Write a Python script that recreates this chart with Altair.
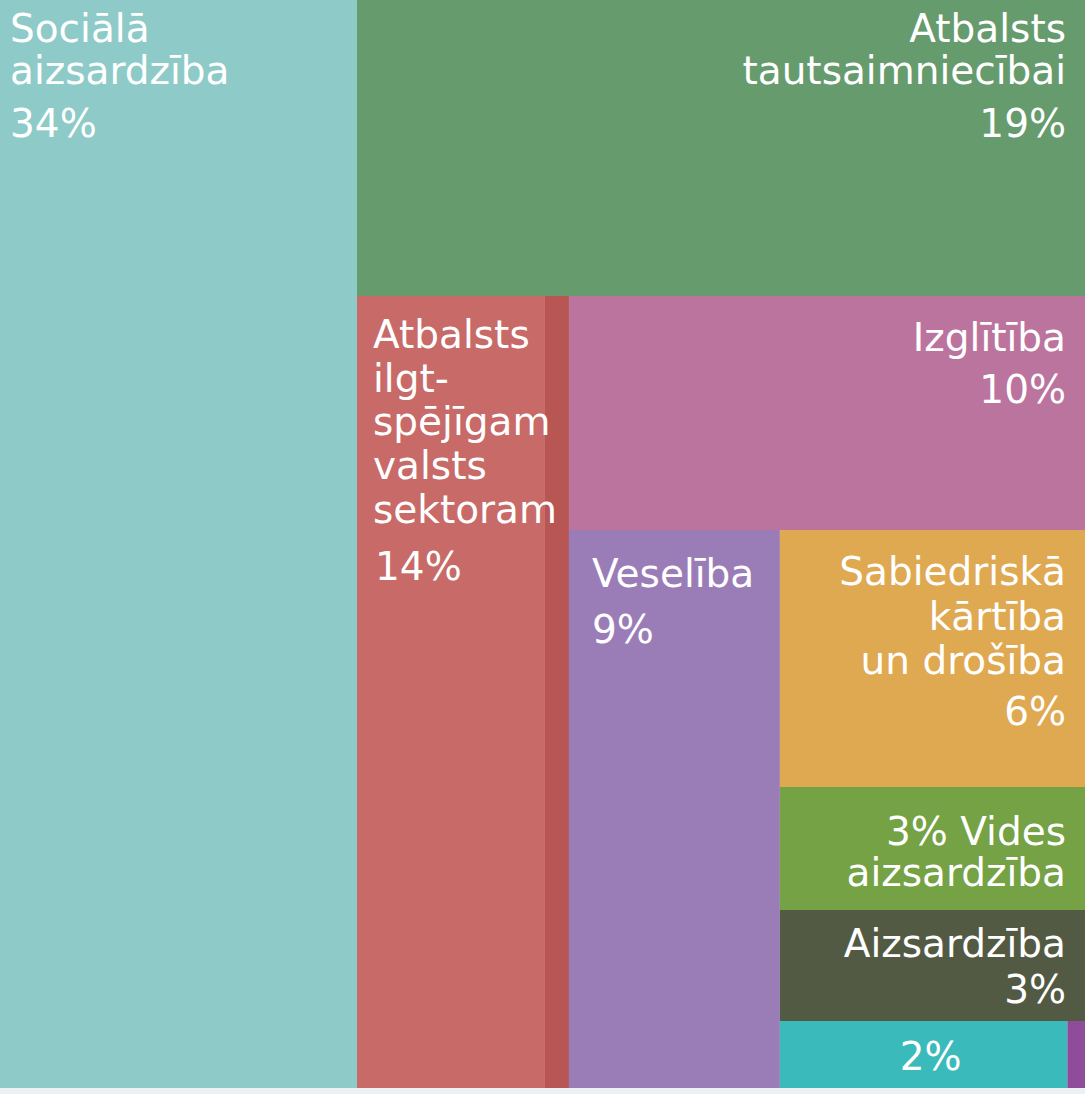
import altair as alt
import pandas as pd

# ---------------- data ----------------
tiles = [
    "Sociālā aizsardzība",
    "Atbalsts tautsaimniecībai",
    "Atbalsts ilgtspējīgam valsts sektoram",
    "Atbalsts ilgtspējīgam valsts sektoram (cits)",
    "Izglītība",
    "Veselība",
    "Sabiedriskā kārtība un drošība",
    "Vides aizsardzība",
    "Aizsardzība",
    "Citi",
    "Citi (mazi)",
]
shares = [32.90, 18.25, 12.61, 1.61, 10.23, 9.97, 6.64, 3.18, 2.87, 1.63, 0.10]
name_lines = [
    ["Sociālā", "aizsardzība"],
    ["Atbalsts", "tautsaimniecībai"],
    ["Atbalsts", "ilgt-", "spējīgam", "valsts", "sektoram"],
    [],
    ["Izglītība"],
    ["Veselība"],
    ["Sabiedriskā", "kārtība", "un drošība"],
    ["3% Vides", "aizsardzība"],
    ["Aizsardzība"],
    [],
    [],
]
pct_labels = ["34%", "19%", "14%", "", "10%", "9%", "6%", "", "3%", "2%", ""]

# ---------------- styles ----------------
colors = ["#8ecbc8", "#669b6e", "#c76a68", "#b85654", "#bb749e", "#9a7db7",
          "#dfa952", "#74a244", "#535a44", "#3bbabb", "#8e4c9a"]

# nested slice-and-dice structure of the treemap (indices into tiles)
tree = ("h", [0, ("v", [1, ("h", [2, 3, ("v", [4, ("h", [5, ("v", [6, 7, 8, ("h", [9, 10])])])])])])])

W, H = 1085, 1088      # treemap box
CH = 1094              # chart height incl. bottom strip


def total(node):
    if isinstance(node, int):
        return shares[node]
    return sum(total(c) for c in node[1])


def layout(node, x0, y0, x1, y1, out):
    if isinstance(node, int):
        out[node] = (x0, y0, x1, y1)
        return
    d, children = node
    t = total(node)
    pos = x0 if d == "h" else y0
    for c in children:
        f = total(c) / t
        if d == "h":
            w = (x1 - x0) * f
            layout(c, pos, y0, pos + w, y1, out)
            pos += w
        else:
            h = (y1 - y0) * f
            layout(c, x0, pos, x1, pos + h, out)
            pos += h


rects = {}
layout(tree, 0, 0, W, H, rects)

df = pd.DataFrame({
    "name": tiles,
    "x": [rects[i][0] for i in range(len(tiles))],
    "y": [rects[i][1] for i in range(len(tiles))],
    "x2": [rects[i][2] for i in range(len(tiles))],
    "y2": [rects[i][3] for i in range(len(tiles))],
})
df["xc"] = (df["x"] + df["x2"]) / 2

xs = alt.Scale(domain=[0, W], nice=False, zero=False)
ys = alt.Scale(domain=[0, CH], nice=False, zero=False, reverse=True)

base = alt.Chart(df)
rect = base.mark_rect(strokeWidth=0).encode(
    x=alt.X("x:Q", scale=xs, axis=None),
    x2="x2:Q",
    y=alt.Y("y:Q", scale=ys, axis=None),
    y2="y2:Q",
    color=alt.Color("name:N", scale=alt.Scale(domain=tiles, range=colors), legend=None),
)

# label placement: align, dx, name baseline dy, line height, pct dx, pct dy
label_style = {
    0: ("left", 10, 42, 42, 10, 137),
    1: ("right", -19, 42, 42, -19, 137),
    2: ("left", 16, 52, 43.7, 18, 284),
    4: ("right", -19, 55, 43, -19, 107),
    5: ("left", 23, 57, 43, 23, 113),
    6: ("right", -19, 55, 44.5, -19, 195),
    7: ("right", -19, 58, 41, -19, 0),
    8: ("right", -19, 47, 43, -19, 93),
    9: ("center", 7, 0, 43, 7, 49),
}

layers = [rect]
for i, (align, dx, dy, lh, pdx, pdy) in label_style.items():
    one = alt.Chart(df.iloc[[i]])
    xfield = {"left": "x", "right": "x2", "center": "xc"}[align]
    enc = dict(x=alt.X(f"{xfield}:Q", scale=xs, axis=None),
               y=alt.Y("y:Q", scale=ys, axis=None))
    common = dict(align=align, baseline="alphabetic", font="DejaVu Sans",
                  fontSize=39, color="white")
    if name_lines[i]:
        layers.append(one.mark_text(text=name_lines[i], dx=dx, dy=dy,
                                    lineHeight=lh, **common).encode(**enc))
    if pct_labels[i]:
        layers.append(one.mark_text(text=pct_labels[i], dx=pdx, dy=pdy,
                                    **common).encode(**enc))

chart = alt.layer(*layers).properties(
    width=W, height=CH, padding=0, autosize="none", background="#eef1f3"
).configure_view(stroke=None)

chart.save("out.html", embed_options={"renderer": "svg", "actions": False})
